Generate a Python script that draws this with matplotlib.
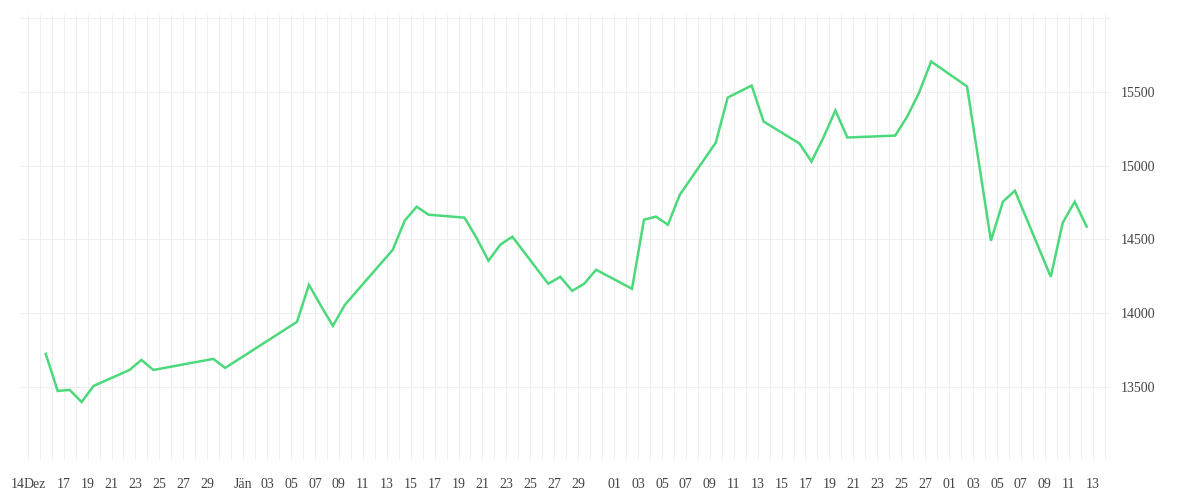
import matplotlib
matplotlib.use("Agg")
import matplotlib.pyplot as plt
import numpy as np
import pandas as pd

DATES = [
    "2014-12-15", "2014-12-16", "2014-12-17", "2014-12-18", "2014-12-19",
    "2014-12-22", "2014-12-23", "2014-12-24", "2014-12-29", "2014-12-30",
    "2015-01-05", "2015-01-06", "2015-01-07", "2015-01-08", "2015-01-09",
    "2015-01-13", "2015-01-14", "2015-01-15", "2015-01-16", "2015-01-19",
    "2015-01-20", "2015-01-21", "2015-01-22", "2015-01-23", "2015-01-26",
    "2015-01-27", "2015-01-28", "2015-01-29", "2015-01-30", "2015-02-02",
    "2015-02-03", "2015-02-04", "2015-02-05", "2015-02-06", "2015-02-09",
    "2015-02-10", "2015-02-12", "2015-02-13", "2015-02-16", "2015-02-17",
    "2015-02-18", "2015-02-19", "2015-02-20", "2015-02-24", "2015-02-25",
    "2015-02-26", "2015-02-27", "2015-03-02", "2015-03-04", "2015-03-05",
    "2015-03-06", "2015-03-09", "2015-03-10", "2015-03-11", "2015-03-12",
]
VALUES = [
    13724, 13473, 13480, 13398, 13507,
    13615, 13683, 13615, 13690, 13629,
    13941, 14192, 14050, 13914, 14056,
    14429, 14626, 14721, 14667, 14647,
    14511, 14355, 14464, 14518, 14199,
    14246, 14151, 14199, 14294, 14165,
    14633, 14654, 14599, 14803, 15155,
    15461, 15542, 15298, 15149, 15027,
    15190, 15373, 15190, 15203, 15332,
    15495, 15705, 15536, 14491, 14755,
    14830, 14246, 14613, 14755, 14586,
]
Y_TICKS = [13500, 14000, 14500, 15000, 15500]
MONTH_LABELS = {12: "Dez", 1: "Jän", 2: "01", 3: "01"}

GRID = "#efefef"
LINE = "#4cd97b"
TEXT = "#444444"

start = pd.Timestamp("2014-12-13")
def dnum(ts):
    return (pd.Timestamp(ts) - start).days

x = np.array([dnum(d) + 0.5 for d in DATES])
y = np.array(VALUES)

fig = plt.figure(figsize=(12, 5), dpi=100)
ax = fig.add_axes([20 / 1200, 40 / 500, 1090 / 1200, 445 / 500])

ax.plot(x, y, color=LINE, linewidth=1.8, solid_joinstyle="miter")

days = pd.date_range("2014-12-13", "2015-03-14")
for d in days:
    ax.axvline(dnum(d), color=GRID, linewidth=0.8, zorder=0)
for v in range(13000, 16001, 500):
    ax.axhline(v, color=GRID, linewidth=0.8, zorder=0)

ax.set_xlim(0.35, dnum("2015-03-14") + 0.45)
ax.set_ylim(13005, 16020)
for s in ax.spines.values():
    s.set_visible(False)
ax.tick_params(length=0)
ax.set_xticks([])
ax.yaxis.tick_right()
ax.set_yticks(Y_TICKS)
ax.set_yticklabels([str(v) for v in Y_TICKS], fontsize=10, color=TEXT,
                   family="Liberation Serif")
ax.tick_params(axis="y", pad=8)

# date labels below the axis
labels = [(0.15, "14"), (1.6, "Dez")]
for d in days:
    if d < pd.Timestamp("2014-12-17"):
        continue
    if d.day == 1:
        labels.append((dnum(d), MONTH_LABELS[d.month]))
    elif d.day % 2 == 1 and d.day != 31:
        labels.append((dnum(d), f"{d.day:02d}" if d.month != 12 else str(d.day)))
for pos, txt in labels:
    ax.text(pos, -0.055, txt, transform=ax.get_xaxis_transform(), ha="center",
            va="center", fontsize=10, color=TEXT, family="Liberation Serif")

fig.savefig("out.png", dpi=100)
